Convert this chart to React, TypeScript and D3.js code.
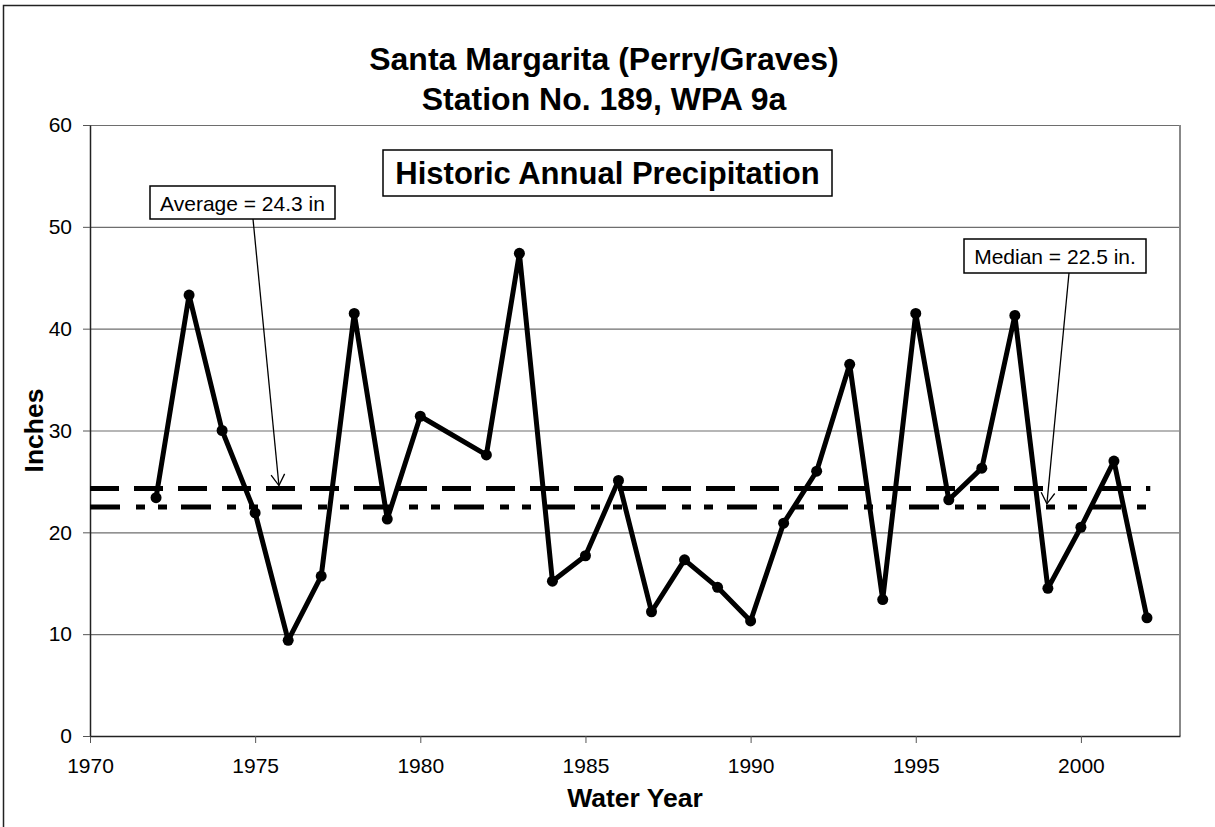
import React, { useEffect, useRef } from "react";
import * as d3 from "d3";

// Water years and annual precipitation (inches); 1981 has no record
const years = [
  1972, 1973, 1974, 1975, 1976, 1977, 1978, 1979, 1980, 1982, 1983, 1984,
  1985, 1986, 1987, 1988, 1989, 1990, 1991, 1992, 1993, 1994, 1995, 1996,
  1997, 1998, 1999, 2000, 2001, 2002,
];
const inches = [
  23.4, 43.3, 30.0, 21.9, 9.4, 15.7, 41.5, 21.3, 31.4, 27.6, 47.4, 15.2,
  17.7, 25.1, 12.2, 17.3, 14.6, 11.3, 20.9, 26.0, 36.5, 13.4, 41.5, 23.2,
  26.3, 41.3, 14.5, 20.5, 27.0, 11.6,
];
const average = 24.3;
const median = 22.5;
const xTicks = [1970, 1975, 1980, 1985, 1990, 1995, 2000];
const yTicks = [0, 10, 20, 30, 40, 50, 60];

const W = 1215;
const H = 827;
const FONT = "'Liberation Sans', Arial, sans-serif";

const App = () => {
  const ref = useRef<SVGSVGElement>(null);

  useEffect(() => {
    drawChart();
  }, []);

  function drawChart() {
    const svg = d3.select(ref.current);
    svg.selectAll("*").remove();

    const left = 90;
    const right = 1180;
    const top = 125;
    const bottom = 736;

    const x = d3.scaleLinear().domain([1970, 2003]).range([left, right]);
    const y = d3.scaleLinear().domain([0, 60]).range([bottom, top]);

    // outer frame (only left/top edges fall inside the picture)
    svg
      .append("rect")
      .attr("x", 3.5)
      .attr("y", 5.5)
      .attr("width", 1300)
      .attr("height", 900)
      .attr("fill", "white")
      .attr("stroke", "#222")
      .attr("stroke-width", 1.5);

    // grid lines
    svg
      .append("g")
      .selectAll("line")
      .data(yTicks.filter((d) => d > 0))
      .join("line")
      .attr("x1", left)
      .attr("x2", right)
      .attr("y1", (d) => y(d) + 0.5)
      .attr("y2", (d) => y(d) + 0.5)
      .attr("stroke", "#6e6e6e")
      .attr("stroke-width", 1.2);

    // right border
    svg
      .append("line")
      .attr("x1", right)
      .attr("x2", right)
      .attr("y1", top)
      .attr("y2", bottom)
      .attr("stroke", "#888")
      .attr("stroke-width", 2);

    // axes
    const xAxis = svg
      .append("g")
      .attr("transform", `translate(0, ${bottom})`)
      .call(
        d3
          .axisBottom(x)
          .tickValues(xTicks)
          .tickFormat(d3.format("d"))
          .tickSize(7)
          .tickSizeOuter(0)
      );
    xAxis.select(".domain").attr("stroke", "#222").attr("stroke-width", 1.5);
    xAxis.selectAll(".tick line").attr("stroke", "#555");
    xAxis
      .selectAll(".tick text")
      .attr("y", 22)
      .attr("dy", "0.71em")
      .attr("font-family", FONT)
      .attr("font-size", 21)
      .attr("fill", "#000");

    const yAxis = svg
      .append("g")
      .attr("transform", `translate(${left}, 0)`)
      .call(d3.axisLeft(y).tickValues(yTicks).tickSize(7).tickSizeOuter(0));
    yAxis.select(".domain").attr("stroke", "#222").attr("stroke-width", 1.5);
    yAxis.selectAll(".tick line").attr("stroke", "#555");
    yAxis
      .selectAll(".tick text")
      .attr("x", -18)
      .attr("font-family", FONT)
      .attr("font-size", 21)
      .attr("fill", "#000");

    // average / median reference lines
    svg
      .append("line")
      .attr("x1", x(1970))
      .attr("x2", x(2002.1))
      .attr("y1", y(average))
      .attr("y2", y(average))
      .attr("stroke", "#000")
      .attr("stroke-width", 5)
      .attr("stroke-dasharray", "29 15");

    svg
      .append("line")
      .attr("x1", x(1970))
      .attr("x2", x(2002.1))
      .attr("y1", y(median))
      .attr("y2", y(median))
      .attr("stroke", "#000")
      .attr("stroke-width", 5)
      .attr("stroke-dasharray", "30 16 9 13 9 14");

    // precipitation series
    const series = years.map((yr, i) => ({ yr, v: inches[i] }));
    const line = d3
      .line<{ yr: number; v: number }>()
      .x((d) => x(d.yr))
      .y((d) => y(d.v));

    svg
      .append("path")
      .datum(series)
      .attr("fill", "none")
      .attr("stroke", "#000")
      .attr("stroke-width", 5)
      .attr("stroke-linejoin", "round")
      .attr("d", line);

    svg
      .append("g")
      .selectAll("circle")
      .data(series)
      .join("circle")
      .attr("cx", (d) => x(d.yr))
      .attr("cy", (d) => y(d.v))
      .attr("r", 5.5)
      .attr("fill", "#000");

    // callout boxes with arrows
    function callout(
      text: string,
      bx: number,
      by: number,
      bw: number,
      bh: number,
      fromX: number,
      toYear: number,
      toVal: number
    ) {
      const g = svg.append("g");
      g.append("rect")
        .attr("x", bx)
        .attr("y", by)
        .attr("width", bw)
        .attr("height", bh)
        .attr("fill", "white")
        .attr("stroke", "#000")
        .attr("stroke-width", 1.5);
      g.append("text")
        .attr("x", bx + bw / 2)
        .attr("y", by + bh / 2 + 8)
        .attr("text-anchor", "middle")
        .attr("font-family", FONT)
        .attr("font-size", 21)
        .text(text);

      const x0 = fromX;
      const y0 = by + bh;
      const x1 = x(toYear);
      const y1 = y(toVal) - 3;
      g.append("line")
        .attr("x1", x0)
        .attr("y1", y0)
        .attr("x2", x1)
        .attr("y2", y1)
        .attr("stroke", "#000")
        .attr("stroke-width", 1.3);
      const ang = Math.atan2(y0 - y1, x0 - x1);
      const len = 13;
      const spread = 0.55;
      const head = [ang - spread, ang + spread].map((a) => [
        x1 + len * Math.cos(a),
        y1 + len * Math.sin(a),
      ]);
      g.append("path")
        .attr(
          "d",
          `M${head[0][0]},${head[0][1]}L${x1},${y1}L${head[1][0]},${head[1][1]}`
        )
        .attr("fill", "none")
        .attr("stroke", "#000")
        .attr("stroke-width", 1.3);
    }

    callout("Average = 24.3 in", 150, 186, 185, 33, 253, 1975.72, average);
    callout("Median = 22.5 in.", 964, 239, 182, 34, 1069, 1998.97, median);

    // inner chart caption box
    svg
      .append("rect")
      .attr("x", 383)
      .attr("y", 150)
      .attr("width", 449)
      .attr("height", 46)
      .attr("fill", "white")
      .attr("stroke", "#000")
      .attr("stroke-width", 1.5);
    svg
      .append("text")
      .attr("x", 607.5)
      .attr("y", 184)
      .attr("text-anchor", "middle")
      .attr("font-family", FONT)
      .attr("font-weight", "bold")
      .attr("font-size", 31)
      .text("Historic Annual Precipitation");

    // titles
    const titles = ["Santa Margarita (Perry/Graves)", "Station No. 189, WPA 9a"];
    svg
      .append("g")
      .selectAll("text")
      .data(titles)
      .join("text")
      .attr("x", 604)
      .attr("y", (d, i) => 70 + i * 40)
      .attr("text-anchor", "middle")
      .attr("font-family", FONT)
      .attr("font-weight", "bold")
      .attr("font-size", 32)
      .text((d) => d);

    svg
      .append("text")
      .attr("x", (left + right) / 2)
      .attr("y", 807)
      .attr("text-anchor", "middle")
      .attr("font-family", FONT)
      .attr("font-weight", "bold")
      .attr("font-size", 26.5)
      .text("Water Year");

    svg
      .append("text")
      .attr("transform", `translate(43, ${(top + bottom) / 2}) rotate(-90)`)
      .attr("text-anchor", "middle")
      .attr("font-family", FONT)
      .attr("font-weight", "bold")
      .attr("font-size", 26.5)
      .text("Inches");
  }

  return (
    <div style={{ position: "absolute", left: 0, top: 0 }}>
      <svg ref={ref} width={W} height={H} style={{ display: "block" }} />
    </div>
  );
};

export default App;
